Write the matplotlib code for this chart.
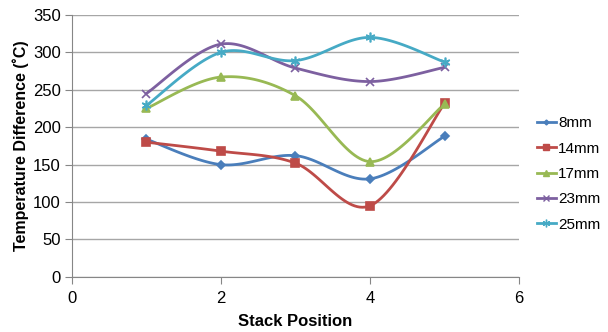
import numpy as np
import matplotlib
matplotlib.use("Agg")
import matplotlib.pyplot as plt

plt.rcParams['font.family'] = ['Liberation Sans', 'DejaVu Sans']

positions = [1, 2, 3, 4, 5]
series_names = ['8mm', '14mm', '17mm', '23mm', '25mm']
s8 = [184, 150, 162, 131, 188]
s14 = [180, 168, 152, 95, 232]
s17 = [225, 267, 242, 154, 231]
s23 = [245, 311, 279, 261, 280]
s25 = [229, 300, 289, 320, 287]
series = [s8, s14, s17, s23, s25]
colors = ['#4A7EBB', '#BE4B48', '#98B954', '#7D60A0', '#46AAC5']
markers = ['D', 's', '^', 'x', (6, 2, 0)]
msizes = [4, 6, 6, 6, 7]


def smooth(x, y, n=30):
    x = np.asarray(x, float)
    y = np.asarray(y, float)
    P = np.column_stack([x, y])
    out = []
    for i in range(len(P) - 1):
        p0 = P[i - 1] if i > 0 else P[i]
        p1 = P[i]
        p2 = P[i + 1]
        p3 = P[i + 2] if i + 2 < len(P) else P[i + 1]
        c1 = p1 + (p2 - p0) / 6.0
        c2 = p2 - (p3 - p1) / 6.0
        t = np.linspace(0, 1, n)[:, None]
        seg = ((1 - t) ** 3) * p1 + 3 * ((1 - t) ** 2) * t * c1 + 3 * (1 - t) * t ** 2 * c2 + t ** 3 * p2
        out.append(seg if i == 0 else seg[1:])
    arr = np.vstack(out)
    return arr[:, 0], arr[:, 1]


fig = plt.figure(figsize=(6.08, 3.32), dpi=100)
ax = fig.add_axes([0.118, 0.166, 0.736, 0.789])

handles = []
for name, vals, c, m, ms in zip(series_names, series, colors, markers, msizes):
    sx, sy = smooth(positions, vals)
    ax.plot(sx, sy, color=c, lw=2, zorder=3)
    ax.plot(positions, vals, linestyle='none', marker=m, color=c, ms=ms,
            mew=1.2, zorder=4)
    h, = ax.plot([], [], color=c, lw=2, marker=m, ms=ms - 1.5, mew=1.0, label=name)
    handles.append(h)

ax.set_xlim(0, 6)
ax.set_ylim(0, 350)
ax.set_xticks([0, 2, 4, 6])
ax.set_yticks(np.arange(0, 351, 50))
ax.yaxis.grid(True, color='#A6A6A6', lw=1)
ax.set_axisbelow(True)
for side in ['top', 'right']:
    ax.spines[side].set_visible(False)
for side in ['left', 'bottom']:
    ax.spines[side].set_color('#868686')
ax.tick_params(axis='both', direction='out', color='#868686', length=5,
               labelsize=12, pad=3)
ax.tick_params(axis='x', pad=5)
ax.set_xlabel('Stack Position', fontsize=12, fontweight='bold', labelpad=6)
ax.set_ylabel('Temperature Difference (\u02daC)', fontsize=11.5, fontweight='bold', labelpad=3)

leg = fig.legend(handles=handles, loc='upper left', bbox_to_anchor=(0.873, 0.668),
                 frameon=False, fontsize=11, handlelength=1.25, handletextpad=0.15,
                 labelspacing=0.74, borderaxespad=0)

fig.savefig('out.png', dpi=100)
